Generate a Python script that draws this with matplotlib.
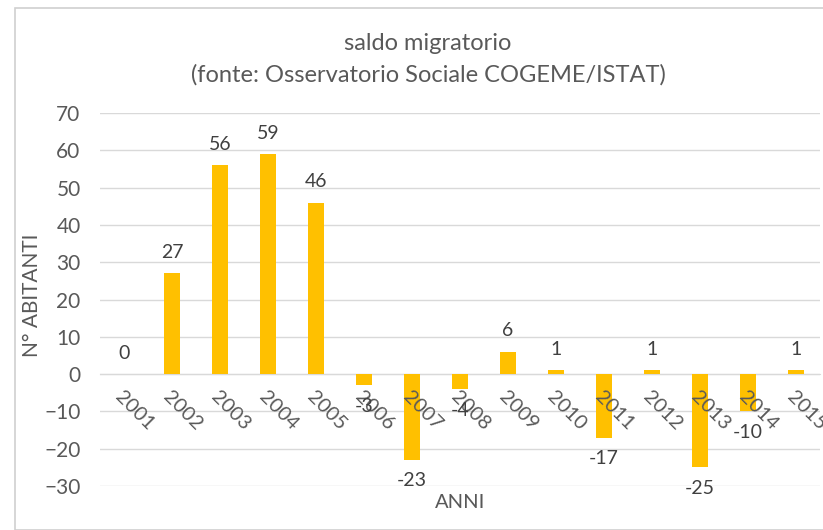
import matplotlib.pyplot as plt
from matplotlib.patches import Rectangle

plt.rcParams['font.family'] = ['Lato', 'DejaVu Sans']

anni = ['2001', '2002', '2003', '2004', '2005', '2006', '2007', '2008',
        '2009', '2010', '2011', '2012', '2013', '2014', '2015']
saldo = [0, 27, 56, 59, 46, -3, -23, -4, 6, 1, -17, 1, -25, -10, 1]

fig = plt.figure(figsize=(8.23, 5.30), dpi=100)
ax = fig.add_axes([0.1215, 0.083, 0.875, 0.7038])

# cornice del grafico (screenshot)
fig.patches.append(Rectangle((15/823, 0), 1, 1 - 8/530, transform=fig.transFigure,
                             fill=False, edgecolor='#d0d0d0', linewidth=1.2))

x = list(range(len(anni)))
ax.bar(x, saldo, width=0.33, color='#FFC000', zorder=2)

for xi, v in zip(x, saldo):
    if v >= 0:
        ax.annotate(str(v), (xi, v), xytext=(0, 9), textcoords='offset points',
                    ha='center', va='bottom', fontsize=14, color='#404040', zorder=5)
    else:
        ax.annotate(str(v), (xi, v), xytext=(0, -9), textcoords='offset points',
                    ha='center', va='top', fontsize=14, color='#404040', zorder=5)

ax.set_xlim(-0.5, len(anni) - 0.5)
ax.set_ylim(-30, 70)
ax.set_yticks(range(-30, 71, 10))
ax.yaxis.grid(True, color='#d9d9d9', linewidth=1)
ax.set_axisbelow(True)
ax.yaxis.set_zorder(0.5)
ax.xaxis.set_zorder(4)

for s in ['top', 'right', 'left']:
    ax.spines[s].set_visible(False)
ax.spines['bottom'].set_position(('data', 0))
ax.spines['bottom'].set_color('#d9d9d9')
ax.spines['bottom'].set_zorder(0.6)

ax.set_xticks(x)
ax.set_xticklabels(anni, rotation=-45, ha='left', va='top', rotation_mode='anchor')
ax.tick_params(axis='x', length=0, pad=10, labelsize=14.5, labelcolor='#595959')
ax.tick_params(axis='y', length=0, pad=14, labelsize=15, labelcolor='#595959')

fig.text(460/823, 1 - 503/530, 'ANNI', ha='center', va='center', fontsize=14.5, color='#595959')
fig.text(32/823, 1 - 295/530, 'N° ABITANTI', ha='center', va='center', rotation=90,
         fontsize=15, color='#595959')

fig.text(428/823, 1 - 43/530, 'saldo migratorio', ha='center', va='center',
         fontsize=17, color='#595959')
fig.text(428/823, 1 - 75/530, '(fonte: Osservatorio Sociale COGEME/ISTAT)', ha='center',
         va='center', fontsize=17, color='#595959')

fig.savefig('out.png', dpi=100)
